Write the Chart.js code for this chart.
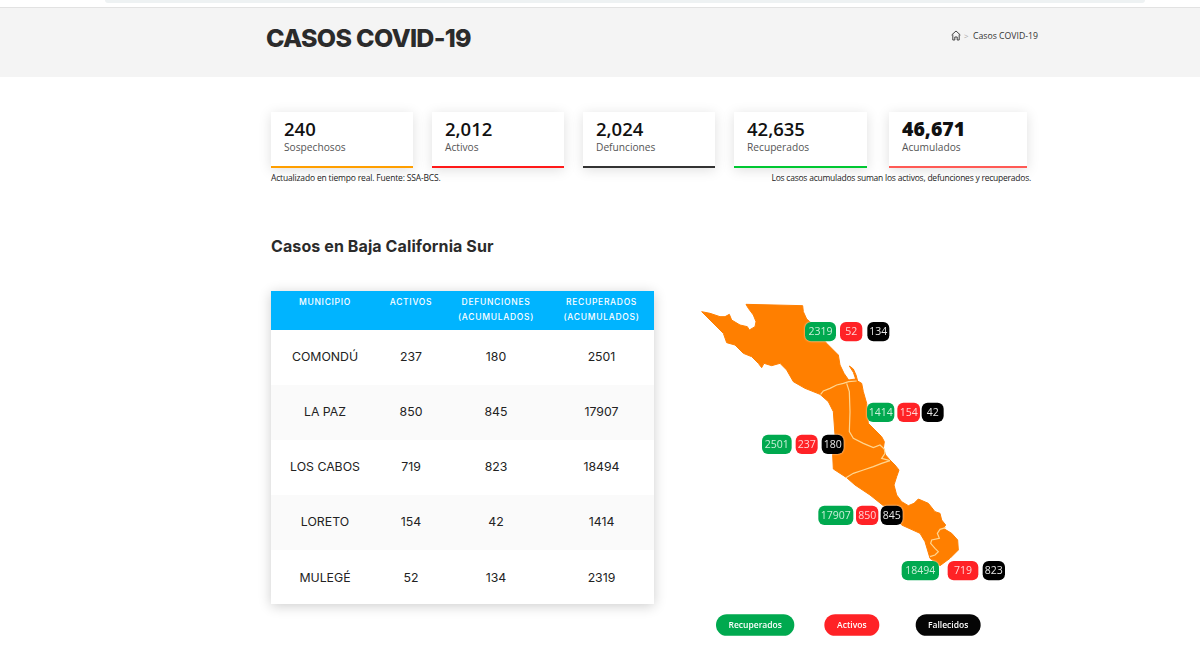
<!DOCTYPE html>
<html lang="es"><head><meta charset="utf-8"><title>Casos COVID-19</title>
<script src="https://cdn.jsdelivr.net/npm/chart.js@4"></script>
<style>
html,body{margin:0;padding:0;background:#fff;width:1200px;height:666px;overflow:hidden;font-family:"Open Sans",sans-serif}
.abs,.card{position:absolute}
#topbar{left:105px;top:0;width:1040px;height:3px;background:#eef2f3;border-radius:0 0 8px 8px}
#banner{left:0;top:7px;width:1200px;height:70px;background:#f4f4f4;border-top:1px solid #e2e2e2;box-sizing:border-box}
#title{left:266px;top:22px;font:800 25px/32px Inter,sans-serif;color:#2b2b2b;letter-spacing:-.72px;white-space:nowrap}
#crumb{left:973px;top:29px;font:400 8.7px/14px "Open Sans",sans-serif;color:#333;white-space:nowrap}
#sep{left:964px;top:29px;font:400 8px/14px "Open Sans",sans-serif;color:#aaa}
#home{left:951px;top:30px}
.card{top:112px;height:56px;background:#fff;box-sizing:border-box;border-bottom:2px solid;box-shadow:0 2px 12px rgba(0,0,0,.13)}
.card b{position:absolute;left:13px;top:8px;font:600 18.5px/18px "Open Sans",sans-serif;color:#111;white-space:nowrap}
.card span{position:absolute;left:13px;top:29px;font:400 10.2px/12px "Open Sans",sans-serif;color:#555;white-space:nowrap}
.note{top:171px;font:400 8.5px/13px "Open Sans",sans-serif;color:#222;white-space:nowrap;letter-spacing:-.23px}
#heading{left:271px;top:236px;font:700 16px/21px Inter,sans-serif;color:#2b2b2b;white-space:nowrap;letter-spacing:.1px}
#tbl{left:271px;top:291px;width:383px;height:313px;box-shadow:0 2px 12px rgba(0,0,0,.2);background:#fff}
table{border-collapse:collapse;table-layout:fixed;width:383px}
th{background:#00b4ff;color:#fff;font:500 8.5px/15px Inter,sans-serif;letter-spacing:.7px;height:39px;padding:4px 0 0;vertical-align:top;text-align:center;box-sizing:border-box}
td{font:400 12.3px/16px Inter,sans-serif;color:#222;text-align:center;padding:0 0 1px;height:54px}
tr:last-child td{padding:1px 0 0}
tr:nth-child(even) td{background:#fafafa}
#mapWrap{left:690px;top:295px;width:330px;height:350px}
</style></head><body>
<div class="abs" id="topbar"></div>
<div class="abs" id="banner"></div>
<div class="abs" id="title">CASOS COVID-19</div>
<svg class="abs" id="home" width="10" height="11" viewBox="0 0 10 11" fill="none" stroke="#444" stroke-width="1"><path d="M.6 5 5 1l4.4 4M1.8 4.5V10h2V7h2.4v3h2V4.5"/></svg>
<div class="abs" id="sep">&gt;</div>
<div class="abs" id="crumb">Casos COVID-19</div>
<div id="cards"></div>
<div class="abs note" style="left:271px;letter-spacing:-.17px">Actualizado en tiempo real. Fuente: SSA-BCS.</div>
<div class="abs note" style="right:169px">Los casos acumulados suman los activos, defunciones y recuperados.</div>
<div class="abs" id="heading">Casos en Baja California Sur</div>
<div class="abs" id="tbl"><table><colgroup><col style="width:108px"><col style="width:64px"><col style="width:106px"><col style="width:105px"></colgroup><thead><tr id="head"></tr></thead><tbody id="body"></tbody></table></div>
<div class="abs" id="mapWrap"><canvas id="map" width="330" height="350"></canvas></div>
<script>
// Data
const summaryLabels = ["Sospechosos","Activos","Defunciones","Recuperados","Acumulados"];
const summaryValues = ["240","2,012","2,024","42,635","46,671"];
const municipios = ["COMONDÚ","LA PAZ","LOS CABOS","LORETO","MULEGÉ"];
const activos = [237,850,719,154,52];
const defunciones = [180,845,823,42,134];
const recuperados = [2501,17907,18494,1414,2319];
const columnHeaders = ["MUNICIPIO","ACTIVOS","DEFUNCIONES<br>(ACUMULADOS)","RECUPERADOS<br>(ACUMULADOS)"];
const legendLabels = ["Recuperados","Activos","Fallecidos"];

// Map geometry in map units
const stateOutline = [[35,50],[60,55],[90,65],[105,65],[118,58],[125,75],[150,90],[172,95],[178,105],[195,95],[198,80],[190,60],[175,40],[168,28],[338,32],[340,50],[350,72],[365,85],[385,115],[410,145],[430,165],[445,180],[450,210],[462,235],[476,255],[497,252],[490,232],[478,213],[490,222],[498,240],[503,258],[515,265],[520,290],[530,325],[535,385],[555,405],[575,425],[583,440],[580,460],[587,480],[600,495],[615,510],[627,525],[620,545],[612,570],[620,600],[635,620],[655,632],[672,625],[685,612],[715,625],[735,650],[750,655],[755,675],[767,690],[760,700],[785,715],[803,735],[805,765],[780,790],[750,812],[720,790],[705,740],[690,715],[635,690],[620,670],[580,632],[540,600],[495,570],[470,548],[430,522],[428,480],[435,420],[430,350],[415,320],[390,298],[345,280],[310,260],[290,225],[270,205],[245,212],[222,205],[215,218],[205,205],[185,185],[160,175],[135,150],[110,143],[100,115],[75,90],[35,50]];
const borderMulege = [[392,298],[400,288],[420,280],[440,270],[460,265],[476,260],[500,258]];
const borderLoreto = [[470,265],[478,290],[480,350],[478,410],[490,430],[520,445],[550,458],[570,450],[583,462],[585,475],[575,490],[600,497]];
const borderLaPaz = [[468,548],[490,535],[520,525],[550,515],[575,505],[600,497]];
const borderCabos = [[767,698],[750,703],[742,715],[748,730],[725,735],[722,745],[735,760],[745,770],[735,780],[720,785]];

// Badge rows, in table order: y-centre and [left,right] edges of the three badges
const badgeRowY = [448,661,827,352,110];
const badgeEdges = [
 [[216,305],[317,383],[395,461]],
 [[385,490],[498,565],[572,638]],
 [[635,747],[773,865],[878,945]],
 [[531,613],[622,690],[695,761]],
 [[345,438],[450,517],[532,598]]
];
const legendEdges = [[78,313],[403,568],[677,872]];
const legendY = 990;

// Page text
const barColors = ["#ff9f00","#ff1a1a","#333333","#00c832","#ff5a55"];
const cardLeft = [271,432,583,734,889], cardWidth = [142,132,132,133,138];
document.getElementById("cards").innerHTML = summaryLabels.map((l,i)=>
 `<div class="card" style="left:${cardLeft[i]}px;width:${cardWidth[i]}px;border-color:${barColors[i]}"><b style="${i==4?'font-weight:800;font-size:19.5px':''}">${summaryValues[i]}</b><span>${l}</span></div>`).join("");
document.getElementById("head").innerHTML = columnHeaders.map(h=>`<th>${h}</th>`).join("");
document.getElementById("body").innerHTML = municipios.map((m,i)=>
 `<tr><td>${m}</td><td>${activos[i]}</td><td>${defunciones[i]}</td><td>${recuperados[i]}</td></tr>`).join("");

// Map
const toPts = a => a.map(p=>({x:p[0],y:p[1]}));
const borderStyle = {showLine:true,fill:false,borderColor:"#ffd690",borderWidth:1.2,pointRadius:0,tension:0,order:1};
const badgeColors = ["#00a94f","#ff2226","#000000"];
const badgeText = ["#c9efd9","#ffd6d6","#e6e6e6"];

function pill(ctx,sx,sy,x0,x1,yc,halfH,r,fill,txtCol,txt,font){
  const l=sx.getPixelForValue(x0), rr=sx.getPixelForValue(x1);
  const t=sy.getPixelForValue(yc-halfH), b=sy.getPixelForValue(yc+halfH);
  ctx.save();
  ctx.beginPath();ctx.roundRect(l,t,rr-l,b-t,r);
  ctx.fillStyle=fill;ctx.shadowColor="rgba(255,255,255,.9)";ctx.shadowBlur=2;ctx.fill();
  ctx.shadowBlur=0;
  ctx.fillStyle=txtCol;ctx.font=font;ctx.textAlign="center";ctx.textBaseline="middle";
  ctx.fillText(txt,(l+rr)/2,(t+b)/2+.5);
  ctx.restore();
}
const badgePlugin = {id:"badges",afterDatasetsDraw(chart){
  const {ctx,scales:{x,y}}=chart;
  const series=[recuperados,activos,defunciones];
  municipios.forEach((m,i)=>series.forEach((s,k)=>{
    const e=badgeEdges[i][k];
    pill(ctx,x,y,e[0],e[1],badgeRowY[i],29,6,badgeColors[k],badgeText[k],String(s[i]),'400 10.5px "Open Sans",sans-serif');
  }));
  legendLabels.forEach((l,k)=>{
    const e=legendEdges[k];
    pill(ctx,x,y,e[0],e[1],legendY,32.5,11,badgeColors[k]=="#000000"?"#050505":badgeColors[k],"#ffffff",l,'600 8.5px "Open Sans",sans-serif');
  });
}};
new Chart(document.getElementById("map"),{
  type:"scatter",
  data:{datasets:[
    {data:toPts(stateOutline),showLine:true,fill:"shape",backgroundColor:"#ff7f00",borderColor:"#ff7f00",borderWidth:1,pointRadius:0,tension:0,order:10},
    {data:toPts(borderMulege),...borderStyle},
    {data:toPts(borderLoreto),...borderStyle},
    {data:toPts(borderLaPaz),...borderStyle},
    {data:toPts(borderCabos),...borderStyle}
  ]},
  options:{responsive:false,animation:false,devicePixelRatio:1,
    layout:{padding:0},
    plugins:{legend:{display:false},tooltip:{enabled:false}},
    scales:{x:{type:"linear",display:false,min:0,max:990},y:{type:"linear",display:false,min:0,max:1050,reverse:true}}
  },
  plugins:[badgePlugin]
});
</script>
</body></html>
